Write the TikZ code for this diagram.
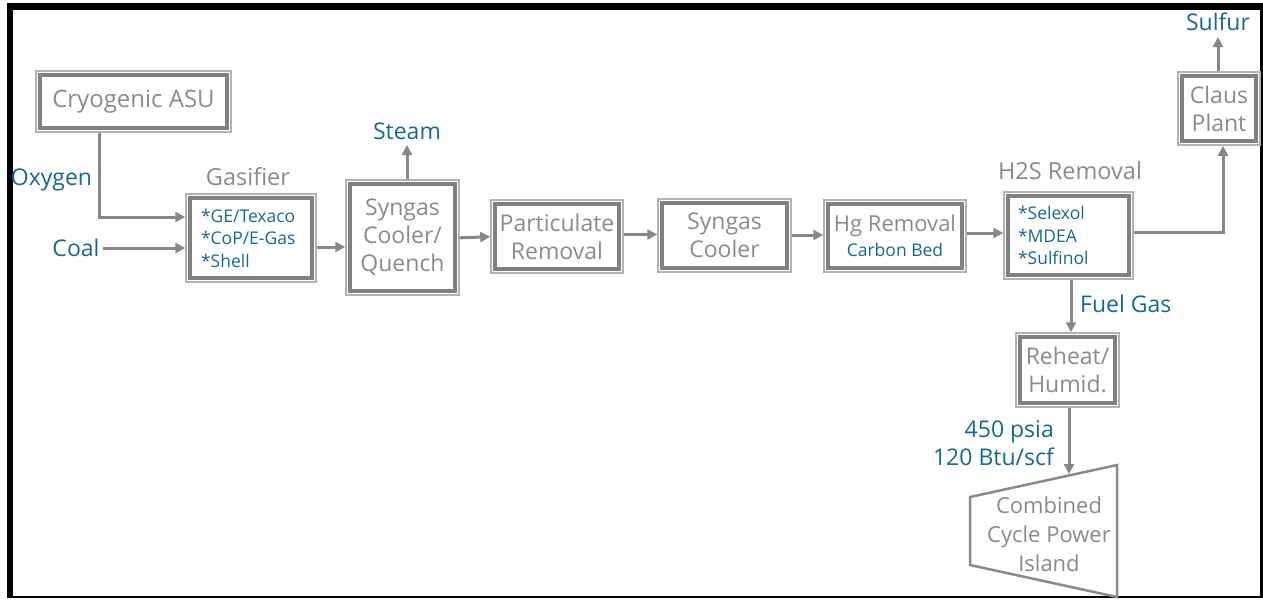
\documentclass[tikz,border=0pt]{standalone}
\usepackage{fontspec}
\setmainfont{Open Sans}
\usetikzlibrary{arrows.meta,calc}
\definecolor{tgray}{RGB}{138,138,138}
\definecolor{bgray}{RGB}{128,128,128}
\definecolor{lgray}{RGB}{178,178,178}
\definecolor{agray}{RGB}{135,135,135}
\definecolor{tblue}{RGB}{24,104,140}
\begin{document}
\begin{tikzpicture}[x=1pt,y=-1pt,
  box/.style={draw=bgray, line width=4pt, inner sep=0pt, outer sep=0pt, align=center, text=tgray, font=\fontsize{23}{28}\selectfont},
  listbox/.style={box, align=left, text=tblue, font=\fontsize{17.5}{22.5}\selectfont},
  lbl/.style={text=tblue, font=\fontsize{23}{27}\selectfont, inner sep=0pt, text height=16.5pt, text depth=0pt},
  glbl/.style={text=tgray, font=\fontsize{23.5}{28}\selectfont, inner sep=0pt, text height=17pt, text depth=0pt},
  arr/.style={draw=agray, line width=3pt, -{Triangle[length=10pt,width=10pt]}},
  sin/.style={shorten >=4.75pt},
  sout/.style={shorten <=4.75pt},
  frameline/.style={draw=lgray, line width=1.5pt}
]
\useasboundingbox (0,0) rectangle (1263,600);
% frame
\fill[black] (7,3) rectangle (1263,10);
\fill[black] (7,3) rectangle (13,598);
\fill[black] (1260,3) rectangle (1263,598);
\fill[black] (7,596) rectangle (1263,598);

% boxes
\node[box, font=\fontsize{24}{28}\selectfont, minimum width=187pt, minimum height=53pt] (asu) at (133.5,101.5) {Cryogenic ASU};
\node[listbox, minimum width=122pt, minimum height=80pt, text width=100pt, inner xsep=11pt] (gas) at (251,238) {*GE/Texaco\\{}*CoP/E-Gas\\{}*Shell};
\node[box, minimum width=105pt, minimum height=107pt] (sq) at (402.5,237.5) {Syngas\\Cooler/\\Quench};
\node[box, minimum width=124pt, minimum height=65pt] (part) at (557,236.5) {Particulate\\Removal};
\node[box, minimum width=125pt, minimum height=65pt] (sc) at (724.5,235.5) {Syngas\\Cooler};
\node[box, minimum width=134pt, minimum height=64pt] (hg) at (895,236) {{\fontsize{22}{26}\selectfont Hg Removal}\\[-3pt]{\color{tblue}\fontsize{17.5}{22}\selectfont Carbon Bed}};
\node[listbox, minimum width=121pt, minimum height=79pt, text width=101pt, inner xsep=10pt] (h2s) at (1068.5,235.5) {*Selexol\\{}*MDEA\\{}*Sulfinol};
\node[box, minimum width=74pt, minimum height=65pt] (claus) at (1219,108.5) {Claus\\Plant};
\node[box, minimum width=95pt, minimum height=66pt] (reheat) at (1067.5,370) {Reheat/\\Humid.};

\foreach \n in {asu,gas,sq,part,sc,hg,h2s,claus,reheat}
  \draw[frameline] ([xshift=-4pt,yshift=4pt]\n.north west) rectangle ([xshift=4pt,yshift=-4pt]\n.south east);

% power island
\draw[draw=tgray, line width=2.5pt, line join=miter] (970,497) -- (1117,465) -- (1117,597) -- (970,565) -- cycle;
\node[box, draw=none, font=\fontsize{22}{29}\selectfont] (ccpi) at (1049,534) {Combined\\Cycle Power\\Island};
\coordinate (ccpitop) at (1069,474);

% labels
\node[lbl] (oxy) at (51.5,177) {Oxygen};
\node[lbl] (coal) at (76,248) {Coal};
\node[glbl] (gaslbl) at (248,177) {Gasifier};
\node[lbl] (steam) at (407,131) {Steam};
\node[glbl] (h2slbl) at (1070,171) {H2S Removal};
\node[lbl] (sulfur) at (1218,22) {Sulfur};
\node[lbl, anchor=west] (fuel) at (1080,304) {Fuel Gas};
\node[lbl, anchor=east] (psia) at (1054,429) {450 psia};
\node[lbl, anchor=east] (btu) at (1054,457) {120 Btu/scf};
\coordinate (steamtip) at (407,145);
\coordinate (sulfurtip) at (1218,37);

% connectors
\draw[arr, sout, sin] ([xshift=-34.5pt]asu.south) |- ([yshift=21pt]gas.west);
\draw[arr, sin, shorten <=3.5pt] (coal.east) -- ([yshift=-10pt]gas.west);
\draw[arr, sout, sin] ([yshift=-9pt]gas.east) -- ([yshift=-9.5pt]sq.west);
\draw[arr, sout, sin] ([yshift=-0.5pt]sq.east) -- (part.west);
\draw[arr, sout, sin] ([yshift=2pt]part.east) -- ([yshift=1pt]sc.west);
\draw[arr, sout, sin] ([yshift=0.5pt]sc.east) -- ([yshift=1pt]hg.west);
\draw[arr, sout, sin] ([yshift=3pt]hg.east) -- ([yshift=2.5pt]h2s.west);
\draw[arr, sout, sin] ([yshift=3.5pt]h2s.east) -| ([xshift=4pt]claus.south);
\draw[arr, sout] ([xshift=-1pt]claus.north) -- (sulfurtip);
\draw[arr, sout] ([xshift=4.5pt]sq.north) -- (steamtip);
\draw[arr, sout, sin] ([xshift=2.5pt]h2s.south) -- ([xshift=3.5pt]reheat.north);
\draw[arr, sout] ([xshift=1.5pt]reheat.south) -- (ccpitop);
\end{tikzpicture}
\end{document}
